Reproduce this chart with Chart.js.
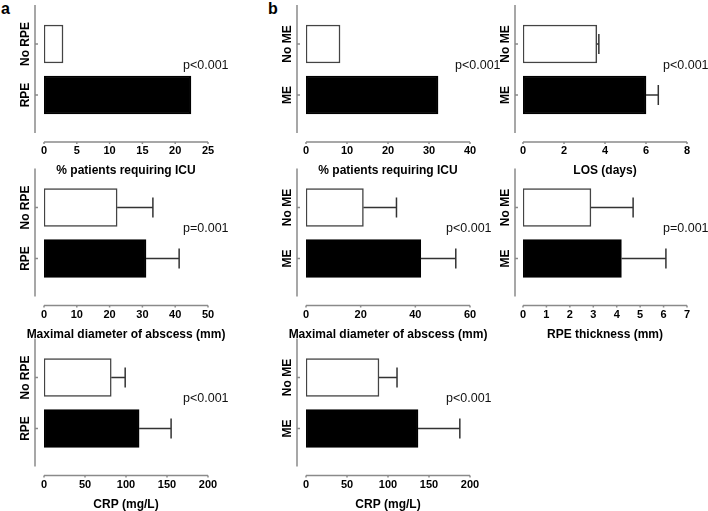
<!DOCTYPE html>
<html>
<head>
<meta charset="utf-8">
<script src="https://cdn.jsdelivr.net/npm/chart.js@4"></script>
<style>
  body { margin: 0; background: #fff; width: 708px; height: 511px; position: relative; overflow: hidden;
         font-family: 'Liberation Sans', Arial, sans-serif; }
  canvas { position: absolute; }
  .tag { position: absolute; font-weight: bold; font-size: 16px; line-height: 16px; color: #000; }
</style>
</head>
<body>
<div class="tag" style="left:1px;top:1px">a</div>
<div class="tag" style="left:268px;top:1px">b</div>
<script>
// ─── DATA ───
const groupsA = ['No RPE', 'RPE'];
const groupsB = ['No ME', 'ME'];

const icuA     = [2.9, 22.4];
const diamA    = [22.3, 31.1];
const diamAErr = [10.9, 10.1];
const crpA     = [82, 116];
const crpAErr  = [17, 39];

const icuB      = [8.3, 32.2];
const losB      = [3.6, 6.0];
const losBErr   = [0.1, 0.6];
const diamB     = [21, 42];
const diamBErr  = [12.1, 12.8];
const thickB    = [2.9, 4.2];
const thickBErr = [1.8, 1.9];
const crpB      = [89, 136.6];
const crpBErr   = [22, 51];

const pA = ['p<0.001', 'p=0.001', 'p<0.001'];
const pB = ['p<0.001', 'p<0.001', 'p<0.001', 'p=0.001', 'p<0.001'];

const tIcu = '% patients requiring ICU', tDiam = 'Maximal diameter of abscess (mm)', tCrp = 'CRP (mg/L)';
const tLos = 'LOS (days)', tThick = 'RPE thickness (mm)';

// ─── LAYOUT ───
const FONT = "'Liberation Sans', Arial, sans-serif";
const cols = [ { ax: 35, x0: 44, x1: 208 }, { ax: 297, x0: 306, x1: 470 }, { ax: 515, x0: 523, x1: 687 } ];
const rows = [44, 207.5, 377.5];   // centre of the upper bar in each row

const panels = [
  { col: 0, row: 0, groups: groupsA, vals: icuA,   err: null,      max: 25,  step: 5,  title: tIcu,   p: pA[0], pdx: -25 },
  { col: 0, row: 1, groups: groupsA, vals: diamA,  err: diamAErr,  max: 50,  step: 10, title: tDiam,  p: pA[1], pdx: -25 },
  { col: 0, row: 2, groups: groupsA, vals: crpA,   err: crpAErr,   max: 200, step: 50, title: tCrp,   p: pA[2], pdx: -25 },
  { col: 1, row: 0, groups: groupsB, vals: icuB,   err: null,      max: 40,  step: 10, title: tIcu,   p: pB[0], pdx: -15 },
  { col: 2, row: 0, groups: groupsB, vals: losB,   err: losBErr,   max: 8,   step: 2,  title: tLos,   p: pB[1], pdx: -24 },
  { col: 1, row: 1, groups: groupsB, vals: diamB,  err: diamBErr,  max: 60,  step: 20, title: tDiam,  p: pB[2], pdx: -24 },
  { col: 2, row: 1, groups: groupsB, vals: thickB, err: thickBErr, max: 7,   step: 1,  title: tThick, p: pB[3], pdx: -24 },
  { col: 1, row: 2, groups: groupsB, vals: crpB,   err: crpBErr,   max: 200, step: 50, title: tCrp,   p: pB[4], pdx: -24 },
];

// ─── axes, category labels, axis titles, error bars and p values ───
const decor = {
  id: 'decor',
  afterDatasetsDraw(chart, args, o) {
    const { ctx, chartArea: ca, scales: { x, y } } = chart;
    ctx.save();
    ctx.strokeStyle = '#8a8a8a'; ctx.lineWidth = 1.5;
    const ax = ca.left - o.gap;
    ctx.beginPath();
    ctx.moveTo(ax, ca.top - 13.5); ctx.lineTo(ax, ca.bottom + 12.5);
    chart.data.labels.forEach((l, i) => { const py = y.getPixelForValue(i); ctx.moveTo(ax, py); ctx.lineTo(ax + 3, py); });
    const yb = ca.bottom + 21.5;
    ctx.moveTo(x.getPixelForValue(0), yb); ctx.lineTo(x.getPixelForValue(x.max), yb);
    x.ticks.forEach(t => { const px = x.getPixelForValue(t.value); ctx.moveTo(px, yb); ctx.lineTo(px, yb + 2); });
    ctx.stroke();

    ctx.fillStyle = '#000';
    ctx.font = 'bold 12px ' + FONT;
    ctx.textAlign = 'center'; ctx.textBaseline = 'middle';
    chart.data.labels.forEach((l, i) => {
      ctx.save();
      ctx.translate(ax - 9, y.getPixelForValue(i));
      ctx.rotate(-Math.PI / 2);
      ctx.fillText(l, 0, 0);
      ctx.restore();
    });
    // axis title, wider than the axis itself
    ctx.fillText(o.title, (x.getPixelForValue(0) + x.getPixelForValue(x.max)) / 2, yb + 29);

    if (o.err) {
      ctx.strokeStyle = '#333'; ctx.lineWidth = 1.5;
      const vals = chart.data.datasets[0].data;
      chart.getDatasetMeta(0).data.forEach((bar, i) => {
        const xe = x.getPixelForValue(vals[i] + o.err[i]);
        ctx.beginPath();
        ctx.moveTo(bar.x, bar.y); ctx.lineTo(xe, bar.y);
        ctx.moveTo(xe, bar.y - 10); ctx.lineTo(xe, bar.y + 10);
        ctx.stroke();
      });
    }

    ctx.font = '12.5px ' + FONT;
    ctx.textAlign = 'left';
    ctx.fillStyle = '#111';
    const mid = (y.getPixelForValue(0) + y.getPixelForValue(1)) / 2 - 4;
    ctx.fillText(o.p, x.getPixelForValue(x.max) + o.pdx, mid);
    ctx.restore();
  }
};

// ─── CHARTS ───
panels.forEach(p => {
  const c = cols[p.col], r = rows[p.row];
  const L = c.ax - 35, T = Math.floor(r - 44), W = c.x1 - L + 45, H = 181;
  const padTop = r - 25.5 - T;
  const cv = document.createElement('canvas');
  cv.width = W; cv.height = H;
  cv.style.left = L + 'px'; cv.style.top = T + 'px';
  document.body.appendChild(cv);

  new Chart(cv, {
    type: 'bar',
    data: {
      labels: p.groups,
      datasets: [{
        data: p.vals,
        backgroundColor: ['#fff', '#000'], borderColor: ['#444', '#000'],
        borderWidth: 1.5, borderSkipped: false, barThickness: 38,
      }]
    },
    options: {
      indexAxis: 'y', responsive: false, animation: false,
      layout: { padding: { left: c.x0 - L, right: L + W - c.x1, top: padTop, bottom: 0 } },
      plugins: {
        legend: { display: false }, tooltip: { enabled: false },
        decor: { gap: c.x0 - c.ax, err: p.err, p: p.p, pdx: p.pdx, title: p.title }
      },
      scales: {
        y: { display: false },
        x: {
          min: 0, max: p.max,
          grid: { display: false, drawTicks: false }, border: { display: false },
          ticks: { stepSize: p.step, padding: 24, color: '#000', font: { family: FONT, size: 11, weight: 'bold' } },
          afterFit: s => { s.height = H - padTop - 102; }
        }
      }
    },
    plugins: [decor]
  });
});
</script>
</body>
</html>
